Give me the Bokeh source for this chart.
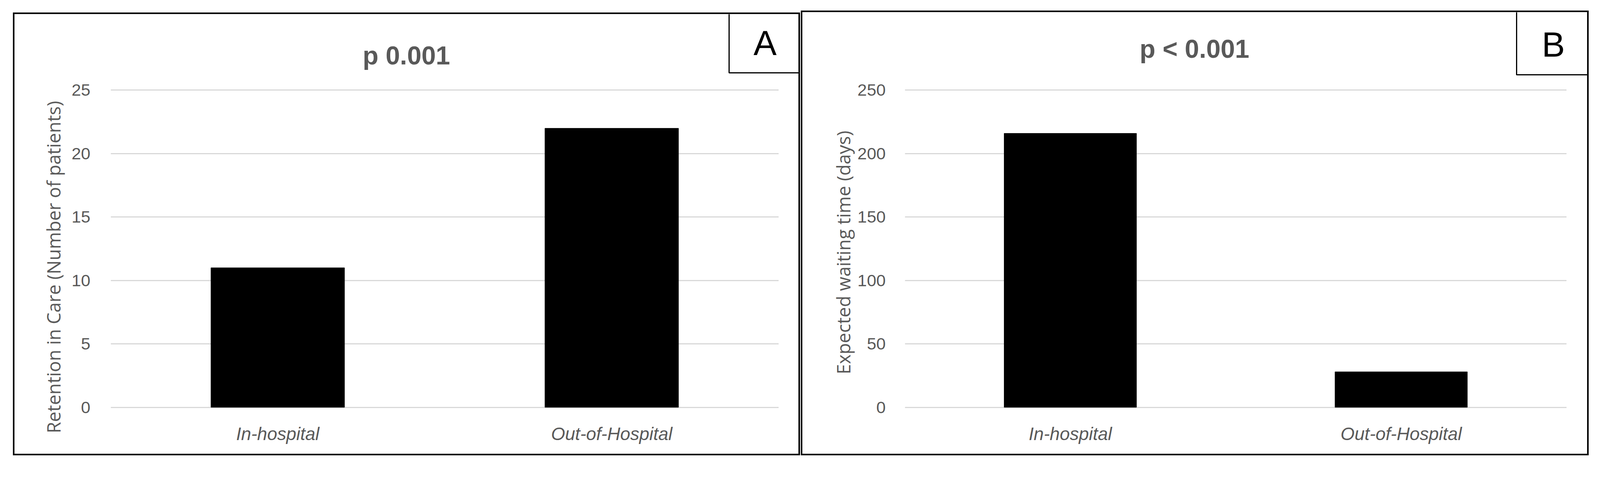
import math
from bokeh.plotting import figure
from bokeh.models import FactorRange, Range1d, FixedTicker, Label, BoxAnnotation, Spacer
from bokeh.layouts import row, column
from bokeh.embed import file_html
from bokeh.resources import INLINE

# ---- data ----
categories = ["In-hospital", "Out-of-Hospital"]
retention_patients = [11, 22]
waiting_days = [216, 28]
ticks_a = [0, 5, 10, 15, 20, 25]
ticks_b = [0, 50, 100, 150, 200, 250]
title_a = "p 0.001"
title_b = "p < 0.001"
ylabel_a = "Retention in Care (Number of patients)"
ylabel_b = "Expected waiting time (days)"
letter_a = "A"
letter_b = "B"

# ---- styling / layout ----
K = 1.06               # picture px per css px (measured)
OFF = 4                # picture offset (measured)
BW = 4                 # panel border (css px)
GREY = "#595959"
GRID = "#d9d9d9"
SANS = "Liberation Sans"
NARROW = "'Liberation Sans Narrow', 'Liberation Sans'"
Y_SPLIT = 212          # reference px: boundary between title strip and chart


def css(v):
    """absolute reference-picture coordinate -> css page coordinate"""
    return int(round((v + OFF) / K))


def ln(v):
    return v / K


def fpx(v):
    return f"{v / K:.1f}px"


def blank(w, h):
    f = figure(width=w, height=h, x_range=Range1d(0, w), y_range=Range1d(0, h),
               x_axis_type=None, y_axis_type=None, min_border=0, title=None,
               toolbar_location=None, output_backend="svg")
    f.outline_line_color = None
    f.background_fill_color = "white"
    f.border_fill_color = "white"
    return f


def make_panel(values, ticks, yr, title, ylabel, letter, outer, title_ref, box_ref,
               letter_ref, ylab_ref, xsplit_ref, frame_ref, standoff_ref):
    Lc, Tc, Rc, Bc = (css(v) for v in outer)
    il, it, ir, ib = Lc + BW, Tc + BW, Rc - BW, Bc - BW
    ys = css(Y_SPLIT)
    xs = css(xsplit_ref)

    # title strip (data units = css px from its bottom-left corner)
    tw, th = ir - il, ys - it
    t = blank(tw, th)
    t.add_layout(Label(x=css(title_ref[0]) - il, y=ys - css(title_ref[1]),
                       text=title, text_align="left", text_baseline="middle",
                       text_font=SANS, text_font_style="bold", text_font_size=fpx(70),
                       text_color=GREY))
    t.add_layout(BoxAnnotation(left=css(box_ref[0]) - il, right=tw + 10,
                               top=th + 10, bottom=ys - css(box_ref[1]),
                               fill_color="white", fill_alpha=1.0,
                               line_color="black", line_alpha=1.0, line_width=3))
    t.add_layout(Label(x=css(letter_ref[0]) - il, y=ys - css(letter_ref[1]),
                       text=letter, text_align="center", text_baseline="middle",
                       text_font=NARROW, text_font_size=fpx(94), text_color="black"))

    # y-title strip
    lw, lh = xs - il, ib - ys
    lf = blank(lw, lh)
    lf.add_layout(Label(x=css(ylab_ref[0]) - il, y=ib - css(ylab_ref[1]),
                        text=ylabel, angle=math.pi / 2, text_align="left",
                        text_baseline="middle", text_font="Open Sans",
                        text_font_size=fpx(50), text_color=GREY))

    # chart
    mw, mh = ir - xs, ib - ys
    p = figure(x_range=FactorRange(*categories), y_range=Range1d(*yr),
               width=mw, height=mh, title=None, output_backend="svg",
               toolbar_location=None,
               min_border_left=css(frame_ref[0]) - xs,
               min_border_right=ir - css(frame_ref[1]),
               min_border_top=css(frame_ref[2]) - ys,
               min_border_bottom=ib - css(frame_ref[3]))
    p.outline_line_color = None
    p.vbar(x=categories, top=values, width=0.4, color="black")
    p.xgrid.grid_line_color = None
    p.ygrid.grid_line_color = GRID
    p.ygrid.grid_line_width = ln(3)
    p.yaxis.ticker = FixedTicker(ticks=ticks)
    for ax in (p.xaxis[0], p.yaxis[0]):
        ax.axis_line_color = None
        ax.major_tick_line_color = None
        ax.minor_tick_line_color = None
        ax.major_label_text_color = GREY
    p.yaxis.major_label_text_font = SANS
    p.yaxis.major_label_text_font_size = fpx(46)
    p.yaxis.major_label_standoff = int(round(ln(standoff_ref)))
    p.xaxis.major_label_text_font = SANS
    p.xaxis.major_label_text_font_style = "italic"
    p.xaxis.major_label_text_font_size = fpx(49)
    p.xaxis.major_label_standoff = int(round(ln(28)))

    # nest the y-title strip in its own column so its frame is not aligned to the chart's
    box = column(t, row(column(lf), p), styles={"border": f"{BW}px solid black"})
    return box, Lc, Tc, Rc


panel_a, la, ta, ra = make_panel(
    retention_patients, ticks_a, (-0.29, 25.26), title_a, ylabel_a, letter_a,
    outer=(39, 38, 2175, 1240), title_ref=(988, 154), box_ref=(1982, 202),
    letter_ref=(2080, 121), ylab_ref=(149, 1180), xsplit_ref=195,
    frame_ref=(298, 2117, 240, 1120), standoff_ref=49)

panel_b, lb, tb, rb = make_panel(
    waiting_days, ticks_b, (-2.9, 252.61), title_b, ylabel_b, letter_b,
    outer=(2178, 33, 4316, 1240), title_ref=(3097, 136), box_ref=(4119, 207),
    letter_ref=(4219, 125), ylab_ref=(2292, 1020), xsplit_ref=2328,
    frame_ref=(2457, 4255, 240, 1120), standoff_ref=46)

layout = row(Spacer(width=la - 8),
             column(Spacer(height=ta - 8), panel_a),
             Spacer(width=lb - ra),
             column(Spacer(height=tb - 8), panel_b))

open("out.html", "w").write(file_html(layout, INLINE))
